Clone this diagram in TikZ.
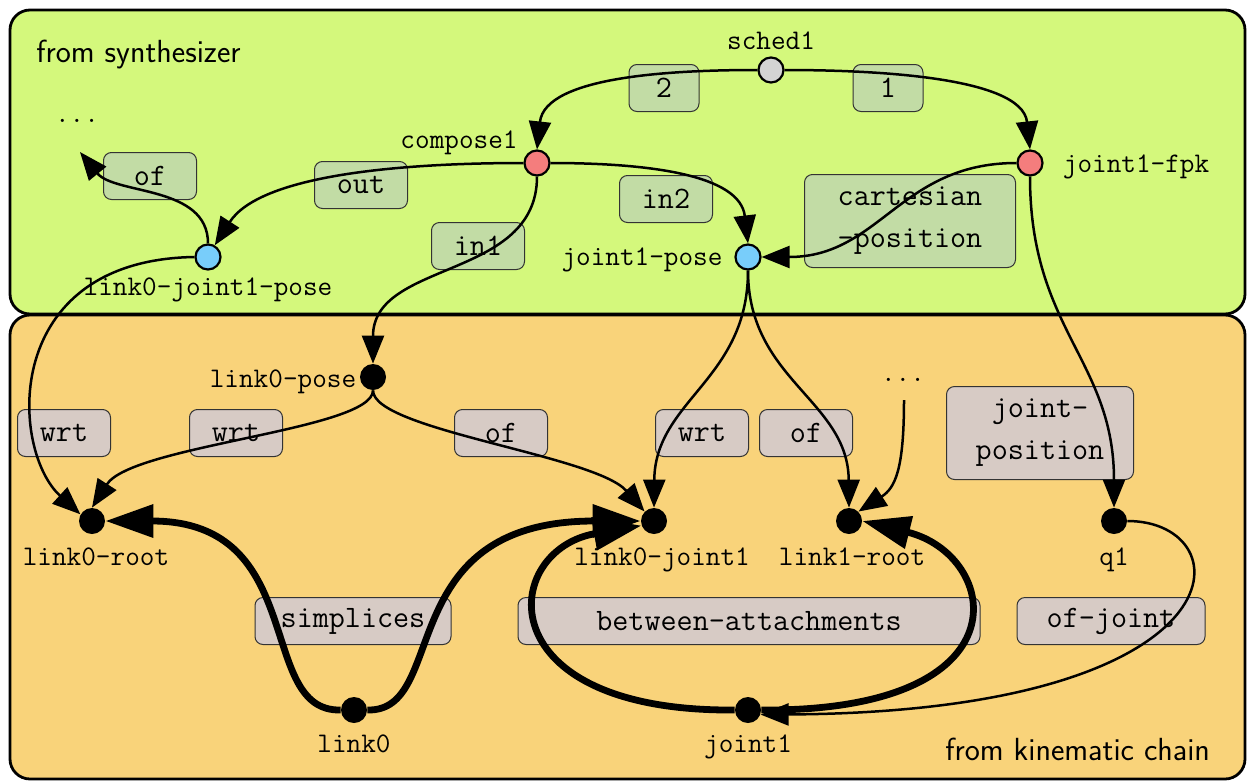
\documentclass[tikz,border=0pt]{standalone}
\usetikzlibrary{arrows.meta}
\definecolor{synbg}{RGB}{212,248,124}
\definecolor{kinbg}{RGB}{249,211,122}
\definecolor{synlbl}{RGB}{194,220,165}
\definecolor{kinlbl}{RGB}{215,203,197}
\definecolor{rednode}{RGB}{244,125,125}
\definecolor{bluenode}{RGB}{120,205,250}
\definecolor{graynode}{RGB}{212,212,212}
\begin{document}
\begin{tikzpicture}[x=0.5pt,y=-0.5pt,
  region/.style={draw=black, line width=1.4pt, rounded corners=10pt},
  vtx/.style={circle, draw=black, line width=1.1pt, minimum size=12.5pt, inner sep=0pt},
  blackdot/.style={circle, fill=black, minimum size=13pt, inner sep=0pt},
  nlabel/.style={font=\fontsize{14.2}{17}\selectfont\ttfamily, inner sep=0pt, anchor=base},
  title/.style={font=\fontsize{16}{19}\selectfont\sffamily, inner sep=0pt, anchor=base west},
  elabel/.style={draw=black!80, line width=0.5pt, rounded corners=4pt,
    font=\fontsize{15.6}{21}\selectfont\ttfamily, minimum height=23.5pt,
    minimum width=46.5pt, inner sep=0pt, align=center},
  glbl/.style={elabel, fill=synlbl},
  klbl/.style={elabel, fill=kinlbl},
  link/.style={line width=1.25pt, -{Triangle[length=14pt,width=11pt]}},
  heavy/.style={line width=3.4pt, -{Triangle[length=24pt,width=16pt]}}
]
\useasboundingbox (0,0) rectangle (1248,782);
% regions
\draw[region, fill=kinbg] (10,315) rectangle (1245,779);
\draw[region, fill=synbg] (10,10) rectangle (1245,314);
\node[title] (syn) at (36,62) {from synthesizer};
\node[title] (kin) at (945,760) {from kinematic chain};

% edge labels
\node[glbl, minimum width=35pt] (e2) at (664,88) {2};
\node[glbl, minimum width=35pt] (e1) at (888,88) {1};
\node[glbl] (eof1) at (150,176) {of};
\node[glbl] (eout) at (361,185) {out};
\node[glbl] (ein2) at (666,199) {in2};
\node[glbl] (ein1) at (478,246) {in1};
\node[glbl, minimum width=105.5pt, minimum height=46.5pt] (ecart) at (910,221) {cartesian\\-position};
\node[klbl] (ewrt1) at (64,433) {wrt};
\node[klbl] (ewrt2) at (236,433) {wrt};
\node[klbl] (eof2) at (501,433) {of};
\node[klbl] (ewrt3) at (702,433) {wrt};
\node[klbl] (eof3) at (806,433) {of};
\node[klbl, minimum width=93.5pt, minimum height=46.5pt] (ejp) at (1040,433) {joint-\\position};
\node[klbl, minimum width=98pt] (esimp) at (353,621) {simplices};
\node[klbl, minimum width=231pt] (ebetw) at (749,621) {between-attachments};
\node[klbl, minimum width=94pt] (eofj) at (1111,621) {of-joint};

% vertices
\node[vtx, fill=graynode] (sched1) at (771,70) {};
\node[vtx, fill=rednode] (compose1) at (537,163) {};
\node[vtx, fill=rednode] (fpk) at (1030,163) {};
\node[vtx, fill=bluenode] (l0j1p) at (208,257) {};
\node[vtx, fill=bluenode] (jp) at (748,257) {};
\node[blackdot] (l0p) at (373,377) {};
\node[blackdot] (l0r) at (92,521) {};
\node[blackdot] (l0j1) at (654,521) {};
\node[blackdot] (l1r) at (849,521) {};
\node[blackdot] (q1) at (1114,521) {};
\node[blackdot] (link0) at (354,710) {};
\node[blackdot] (joint1) at (748,710) {};

% vertex labels
\node[nlabel] (sched1-t) at (771,49) {sched1};
\node[nlabel] (compose1-t) at (459,148) {compose1};
\node[nlabel] (fpk-t) at (1136,172) {joint1-fpk};
\node[nlabel] (l0j1p-t) at (208,295) {link0-joint1-pose};
\node[nlabel] (jp-t) at (642,265) {joint1-pose};
\node[nlabel] (l0p-t) at (283,387) {link0-pose};
\node[nlabel] (l0r-t) at (96,565) {link0-root};
\node[nlabel] (l0j1-t) at (662,565) {link0-joint1};
\node[nlabel] (l1r-t) at (852,565) {link1-root};
\node[nlabel] (q1-t) at (1114,565) {q1};
\node[nlabel] (link0-t) at (354,752) {link0};
\node[nlabel] (joint1-t) at (748,752) {joint1};
\node[nlabel] (dotsA) at (77,122) {...};
\node[nlabel] (dotsB) at (903,381) {...};
\coordinate (dotsA-end) at (80,152);
\coordinate (dotsB-start) at (904,400);

% thin edges
\draw[link] (sched1.west) .. controls (680,70) and (545,75) .. (compose1.north);
\draw[link] (sched1.east) .. controls (862,70) and (1022,75) .. (fpk.north);
\draw[link] (compose1.west) .. controls (400,163) and (260,175) .. (l0j1p.60);
\draw[link] (compose1.east) .. controls (650,163) and (740,175) .. (jp.north);
\draw[link] (compose1.south) .. controls (537,280) and (373,260) .. (l0p.north);
\draw[link] (fpk.west) .. controls (900,163) and (880,257) .. (jp.east);
\draw[link] (fpk.south) .. controls (1030,330) and (1114,360) .. (q1.north);
\draw[link] (l0j1p.north) .. controls (208,185) and (115,195) .. (dotsA-end);
\draw[link] (l0j1p.west) .. controls (0,260) and (10,450) .. (l0r.150);
\draw[link] (l0p.south) .. controls (373,430) and (132,445) .. (l0r.north);
\draw[link] (l0p.south) .. controls (373,430) and (595,455) .. (l0j1.north west);
\draw[link] (jp.south) .. controls (748,380) and (655,400) .. (l0j1.north);
\draw[link] (jp.south) .. controls (748,380) and (848,400) .. (l1r.north);
\draw[link] (dotsB-start) .. controls (904,470) and (895,488) .. (l1r.north east);
\draw[link] (q1.east) .. controls (1245,521) and (1250,712) .. (joint1.-20);

% thick edges
\draw[heavy] (link0.west) .. controls (255,712) and (310,521) .. (l0r.east);
\draw[heavy] (link0.east) .. controls (450,712) and (390,521) .. (l0j1.west);
\draw[heavy] (joint1.west) .. controls (485,712) and (500,550) .. (l0j1.200);
\draw[heavy] (joint1.east) .. controls (1030,712) and (1000,555) .. (l1r.east);
\end{tikzpicture}
\end{document}
